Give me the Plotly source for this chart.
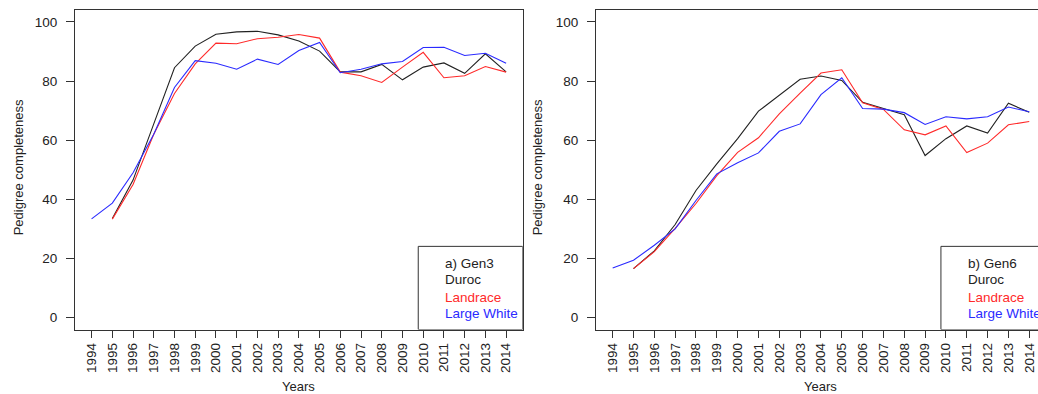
import plotly.graph_objects as go

years = list(range(1994, 2015))

# a) Gen3
gen3_duroc = [None, 33.5, 46.5, 65.5, 84.5, 91.8, 95.8, 96.6, 96.8, 95.6, 93.5, 90.1,
              83.1, 83.1, 85.6, 80.4, 84.7, 86.1, 82.6, 89.2, 83.1]
gen3_landrace = [None, 33.3, 45.0, 62.0, 75.8, 85.8, 92.8, 92.6, 94.3, 94.8, 95.7, 94.5,
                 83.0, 81.8, 79.5, 84.7, 89.7, 81.1, 81.8, 84.9, 83.0]
gen3_largewhite = [33.4, 38.7, 49.0, 62.0, 77.8, 86.9, 86.0, 84.0, 87.4, 85.6, 90.3, 93.0,
                   82.8, 84.0, 85.8, 86.6, 91.3, 91.4, 88.6, 89.4, 86.0]

# b) Gen6
gen6_duroc = [None, 16.6, 22.6, 31.5, 43.0, 52.0, 60.5, 69.8, 75.1, 80.6, 81.7, 80.2,
              72.8, 70.7, 68.6, 54.8, 60.5, 64.8, 62.4, 72.5, 69.4]
gen6_landrace = [None, 16.6, 22.3, 30.2, 38.6, 48.0, 55.9, 60.8, 68.9, 75.9, 82.7, 83.8,
                 72.6, 70.4, 63.5, 61.8, 64.8, 55.8, 59.0, 65.2, 66.3]
gen6_largewhite = [16.8, 19.4, 24.5, 30.0, 39.6, 48.6, 52.4, 55.7, 63.0, 65.5, 75.4, 81.1,
                   70.7, 70.5, 69.3, 65.3, 67.9, 67.2, 67.9, 71.2, 69.6]

series_names = ["Duroc", "Landrace", "Large White"]
series_colors = ["#222222", "#ff2a2a", "#2a2aff"]
panel_titles = ["a) Gen3", "b) Gen6"]
y_ticks = [0, 20, 40, 60, 80, 100]

FONT = "Liberation Sans, Arial, Helvetica, sans-serif"
W, H = 1038, 394

fig = go.Figure()

panels = [
    ("x", "y", [gen3_duroc, gen3_landrace, gen3_largewhite]),
    ("x2", "y2", [gen6_duroc, gen6_landrace, gen6_largewhite]),
]
for xa, ya, data in panels:
    for name, col, vals in zip(series_names, series_colors, data):
        fig.add_trace(go.Scatter(x=years, y=vals, mode="lines", name=name,
                                 line=dict(color=col, width=1.1),
                                 xaxis=xa, yaxis=ya, showlegend=False,
                                 connectgaps=False))

ydom = [(394 - 329.5) / 394, (394 - 10) / 394]
axis_common = dict(showgrid=False, zeroline=False, ticks="outside",
                   linecolor="#333333", linewidth=1, tickcolor="#333333",
                   tickfont=dict(family=FONT, size=13.5, color="#222222"))

fig.update_layout(
    width=W, height=H,
    margin=dict(l=0, r=0, t=0, b=0),
    paper_bgcolor="white", plot_bgcolor="white",
    font=dict(family=FONT, color="#222222"),
    xaxis=dict(domain=[75 / W, 522.7 / W], range=[1993.2, 2014.8],
               tickvals=years, ticktext=[str(y) for y in years], tickangle=-90,
               ticklen=7, showline=True, mirror=True, anchor="y", **axis_common),
    yaxis=dict(domain=ydom, range=[-4, 104], tickvals=y_ticks, ticklen=8,
               showline=True, mirror=True, anchor="x", ticklabelstandoff=6,
               **axis_common),
    xaxis2=dict(domain=[596 / W, 1.0], range=[1993.2, 2014.42],
                tickvals=years, ticktext=[str(y) for y in years], tickangle=-90,
                ticklen=7, showline=True, mirror=True, anchor="y2", **axis_common),
    yaxis2=dict(domain=ydom, range=[-4, 104], tickvals=y_ticks, ticklen=8,
                showline=True, mirror=False, anchor="x2", ticklabelstandoff=6,
                **axis_common),
)

# legend boxes
for xa, ya in [("x", "y"), ("x2", "y2")]:
    fig.add_shape(type="rect", xref=xa, yref=ya, x0=2009.76, x1=2014.8, y0=-4, y1=24.1,
                  line=dict(color="#333333", width=1), fillcolor="rgba(0,0,0,0)")

# legend texts
legend_y = [18.4, 12.8, 6.9, 1.55]
for (xa, ya), title in zip([("x", "y"), ("x2", "y2")], panel_titles):
    labels = [title] + series_names
    colors = ["#222222"] + series_colors
    for lab, col, yy in zip(labels, colors, legend_y):
        fig.add_annotation(x=2010.95, y=yy, xref=xa, yref=ya, text=lab, showarrow=False,
                           xanchor="left", yanchor="middle",
                           font=dict(family=FONT, size=13.5, color=col))
    # x-axis title
    fig.add_annotation(x=2004, y=(394 - 386.7) / 394, xref=xa, yref="paper", text="Years",
                       showarrow=False, xanchor="center", yanchor="middle",
                       font=dict(family=FONT, size=13, color="#222222"))

# y-axis titles
for xpix in [18.3, 537.3]:
    fig.add_annotation(x=xpix / W, y=(394 - 167) / 394, xref="paper", yref="paper",
                       text="Pedigree completeness", textangle=-90, showarrow=False,
                       xanchor="center", yanchor="middle",
                       font=dict(family=FONT, size=13, color="#222222"))

fig.write_html("out.html",
               config={"displayModeBar": False},
               post_script="document.body.style.margin='0';document.body.style.overflow='hidden';")
